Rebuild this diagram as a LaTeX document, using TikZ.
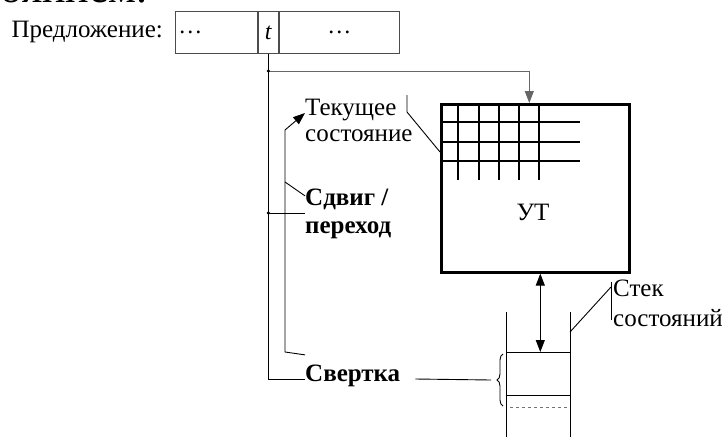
\documentclass[tikz,border=0pt]{standalone}
\usepackage{fontspec}
\setmainfont{Liberation Serif}
\usetikzlibrary{arrows.meta,positioning,decorations.pathreplacing,calc}
\tikzset{
  cell/.style={draw=black!70, line width=0.9pt, minimum height=42pt, inner sep=0pt, font=\fontsize{24}{26}\selectfont},
  lbl/.style={font=\fontsize{25}{26}\selectfont, align=left, inner sep=0pt},
  blbl/.style={lbl, font=\fontsize{25}{28}\selectfont\bfseries},
  ln/.style={line width=0.9pt},
  arr/.style={ln, -{Triangle[length=12pt,width=9pt]}},
  darr/.style={ln, {Triangle[length=12pt,width=9pt]}-{Triangle[length=12pt,width=9pt]}},
  gline/.style={line width=1.3pt},
  dot/.style={circle, fill, inner sep=1.3pt},
}
\begin{document}
\begin{tikzpicture}[x=1pt, y=-1pt]
  \useasboundingbox (0,0) rectangle (723,437);
  % cut-off line of the surrounding text
  \node[font=\fontsize{44}{44}\selectfont, anchor=base east, inner sep=0pt] (frag) at (148,2) {состоянием.};
  % sentence
  \node[cell, text width=76pt, inner xsep=3pt, align=left, anchor=north west] (c1) at (175,11) {\dots};
  \node[cell, minimum width=20pt, anchor=west] (c2) at (c1.east) {\textit{t}};
  \node[cell, minimum width=120pt, anchor=west] (c3) at (c2.east) {\dots};
  \node[lbl, left=12pt of c1] (sent) {Предложение:};
  % control table
  \node[draw, line width=2.6pt, minimum width=188pt, minimum height=168pt, anchor=north west] (ut) at (440,103) {};
  \node[lbl] (utl) at (533,212) {УТ};
  \foreach \x in {458,479,499,519,539} \draw[gline] (\x,103) -- (\x,180);
  \foreach \y in {122,142,161} \draw[gline] (440,\y) -- (580,\y);
  % labels
  \node[lbl, anchor=west] (cur) at (305,120) {Текущее\\состояние};
  \node[blbl, anchor=west] (shift) at (305,214) {Сдвиг /\\переход};
  \node[blbl, anchor=west] (red) at (305,376) {Свертка};
  \node[lbl, anchor=west, font=\fontsize{25}{30}\selectfont] (stk) at (613,303) {Стек\\состояний};
  % connectors from the sentence
  \coordinate (j1) at (c2.south |- 0,71);
  \coordinate (j2) at (c2.south |- 0,213);
  \coordinate (j3) at (c2.south |- 0,379);
  \draw[ln] (c2.south) -- (j3) -- (j3 -| red.west);
  \draw[arr, draw=black!60] (j1) -| ([xshift=-6pt]ut.north);
  \draw[ln] (j2) -- (j2 -| shift.west);
  \node[dot] at (j1) {};
  \node[dot] at (j2) {};
  % state line
  \coordinate (in1) at (285,352);
  \coordinate (in2) at (285,130);
  \draw[arr] ([yshift=10pt]red.north west) -- (in1) -- (in2) -- ([yshift=7pt]cur.west);
  \draw[ln] (in2 |- 0,182) -- ([yshift=-7pt]shift.north west);
  \draw[ln] (407,95) -- (407,112) -- (ut.west |- 0,152);
  % stack
  \draw[ln] (506,312) -- (506,437);
  \draw[ln] (570,312) -- (570,437);
  \coordinate (top) at (506,352);
  \draw[ln] (top) -- (570,352);
  \draw[ln] (506,395) -- (570,395);
  \draw[ln, dashed, draw=black!55] (510,407) -- (567,407);
  \draw[darr] ([xshift=5pt]ut.south) -- ([xshift=5pt]ut.south |- top);
  \draw[ln] (611,282) -- (611,320);
  \draw[ln] (611,287) -- (570,332);
  \draw[ln, decorate, decoration={brace, amplitude=6pt}] (503,406) -- (503,354);
  \draw[ln] ([xshift=15pt]red.east |- j3) -- (491,380);
\end{tikzpicture}
\end{document}
